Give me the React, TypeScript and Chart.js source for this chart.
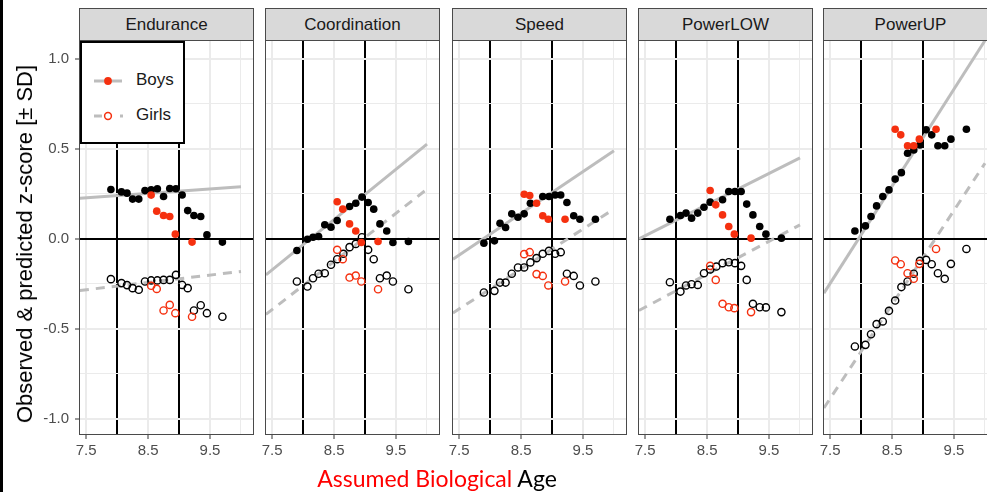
import React, { useEffect, useRef } from 'react';
import { Chart, registerables } from 'chart.js';

Chart.register(...registerables);

// ---------------- data ----------------
const FACETS = ['Endurance', 'Coordination', 'Speed', 'PowerLOW', 'PowerUP'];
const AGES = [7.9, 8.07, 8.16, 8.25, 8.35, 8.45, 8.55, 8.65, 8.75, 8.85, 8.95, 9.05, 9.14, 9.24, 9.35, 9.45, 9.7];
const AGES_RED = [8.55, 8.64, 8.75, 8.85, 8.94, 9.21];
const FIT_AGES = [7.4, 10.0];
const X_TICKS = [7.5, 8, 8.5, 9, 9.5, 10];
const X_LABELS = [7.5, 8.5, 9.5];
const Y_TICKS = [-1, -0.75, -0.5, -0.25, 0, 0.25, 0.5, 0.75, 1];
const Y_LABELS = [-1, -0.5, 0, 0.5, 1];
const REF_AGES = [8, 9];
const REF_Z = [0];

const enduranceBoys = [0.274, 0.261, 0.254, 0.221, 0.221, 0.268, 0.272, 0.278, 0.235, 0.28, 0.278, 0.244, 0.157, 0.13, 0.124, 0.022, -0.018];
const enduranceBoysRed = [0.243, 0.154, 0.13, 0.124, 0.026, -0.018];
const enduranceGirls = [-0.224, -0.246, -0.257, -0.274, -0.283, -0.237, -0.231, -0.231, -0.228, -0.228, -0.2, -0.256, -0.274, -0.398, -0.369, -0.413, -0.433];
const enduranceGirlsRed = [-0.261, -0.278, -0.398, -0.367, -0.413, -0.433];
const enduranceFitBoys = [0.226, 0.29];
const enduranceFitGirls = [-0.287, -0.181];

const coordinationBoys = [-0.065, -0.002, 0.009, 0.013, 0.078, 0.065, 0.102, null, 0.18, 0.198, 0.232, 0.202, 0.165, 0.083, 0.044, -0.02, -0.015];
const coordinationBoysRed = [0.206, 0.165, 0.083, 0.044, -0.02, -0.015];
const coordinationGirls = [-0.237, -0.265, -0.219, -0.194, -0.191, -0.144, -0.113, -0.083, -0.046, -0.028, 0.009, -0.061, -0.113, -0.219, -0.204, -0.237, -0.28];
const coordinationGirlsRed = [-0.061, -0.113, -0.215, -0.204, -0.237, -0.28];
const coordinationFitBoys = [-0.2, 0.526];
const coordinationFitGirls = [-0.42, 0.276];

const speedBoys = [-0.024, -0.011, 0.087, 0.063, 0.139, 0.12, 0.139, 0.198, null, 0.235, 0.235, 0.244, 0.244, 0.202, 0.128, 0.109, 0.109];
const speedBoysRed = [0.248, 0.241, 0.198, 0.128, 0.109, 0.109];
const speedGirls = [-0.298, -0.289, -0.243, -0.243, -0.194, -0.159, -0.159, -0.131, -0.107, -0.083, -0.067, -0.083, -0.074, -0.194, -0.206, -0.259, -0.237];
const speedGirlsRed = [-0.085, -0.074, -0.196, -0.206, -0.259, -0.237];
const speedFitBoys = [-0.113, 0.49];
const speedFitGirls = [-0.412, 0.166];

const powerLowBoys = [0.109, 0.13, 0.143, 0.115, 0.143, 0.176, 0.204, null, 0.217, 0.263, 0.263, 0.263, 0.193, 0.133, 0.069, 0.026, 0.004];
const powerLowBoysRed = [0.269, 0.189, 0.133, 0.069, 0.026, 0.004];
const powerLowGirls = [-0.241, -0.293, -0.259, -0.252, -0.256, -0.191, -0.17, -0.154, -0.135, -0.13, -0.135, -0.15, -0.228, -0.361, -0.38, -0.381, -0.407];
const powerLowGirlsRed = [-0.15, -0.228, -0.361, -0.38, -0.385, -0.407];
const powerLowFitBoys = [0.0, 0.45];
const powerLowFitGirls = [-0.398, 0.078];

const powerUpBoys = [0.044, 0.072, 0.124, 0.183, 0.235, 0.272, 0.332, 0.368, 0.476, 0.494, 0.522, 0.606, 0.578, 0.517, 0.517, 0.554, 0.609];
const powerUpBoysRed = [0.609, 0.578, 0.517, 0.517, 0.554, 0.609];
const powerUpGirls = [-0.598, -0.589, -0.53, -0.474, -0.459, -0.4, -0.343, -0.268, -0.237, -0.194, -0.122, -0.117, -0.141, -0.191, -0.222, -0.139, -0.056];
const powerUpGirlsRed = [-0.12, -0.141, -0.191, -0.222, -0.139, -0.056];
const powerUpFitBoys = [-0.302, 1.102];
const powerUpFitGirls = [-0.94, 0.42];

const PANEL_DATA = [
  { boys: enduranceBoys, boysRed: enduranceBoysRed, girls: enduranceGirls, girlsRed: enduranceGirlsRed, fitBoys: enduranceFitBoys, fitGirls: enduranceFitGirls },
  { boys: coordinationBoys, boysRed: coordinationBoysRed, girls: coordinationGirls, girlsRed: coordinationGirlsRed, fitBoys: coordinationFitBoys, fitGirls: coordinationFitGirls },
  { boys: speedBoys, boysRed: speedBoysRed, girls: speedGirls, girlsRed: speedGirlsRed, fitBoys: speedFitBoys, fitGirls: speedFitGirls },
  { boys: powerLowBoys, boysRed: powerLowBoysRed, girls: powerLowGirls, girlsRed: powerLowGirlsRed, fitBoys: powerLowFitBoys, fitGirls: powerLowFitGirls },
  { boys: powerUpBoys, boysRed: powerUpBoysRed, girls: powerUpGirls, girlsRed: powerUpGirlsRed, fitBoys: powerUpFitBoys, fitGirls: powerUpFitGirls },
];

// ---------------- style / layout ----------------
const RED = '#f5300f';
const FIT_GRAY = '#bdbdbd';
const GRID = '#ebebeb';
const FONT = '"Liberation Sans", Arial, sans-serif';
const PANEL_LEFT = [79, 265, 452, 638, 823];
const PANEL_W = 175;
const PLOT_TOP = 40;
const PLOT_H = 395;
const AXIS_W = 50;
const AXIS_H = 32;
const X_MIN = 7.385;
const X_MAX = 10.21;
const Y_MIN = -1.09;
const Y_MAX = 1.105;

const has = (list: number[], v: number) => list.some((m) => Math.abs(m - v) < 1e-6);

const zeroPadding = (s: any) => {
  s.paddingTop = 0;
  s.paddingBottom = 0;
  s.paddingLeft = 0;
  s.paddingRight = 0;
};

function FacetChart({ index }: { index: number }) {
  const ref = useRef<HTMLCanvasElement | null>(null);

  useEffect(() => {
    const d = PANEL_DATA[index];
    const pts = (xs: number[], ys: (number | null)[]) =>
      xs.map((x, i) => ({ x, y: ys[i] })).filter((p) => p.y !== null && p.y !== undefined);
    const showY = index === 0;

    const borderPlugin = {
      id: 'panelBorder',
      afterDraw(chart: any) {
        const { ctx, chartArea: a } = chart;
        ctx.save();
        ctx.strokeStyle = '#4a4a4a';
        ctx.lineWidth = 1;
        ctx.strokeRect(Math.round(a.left) + 0.5, Math.round(a.top) + 0.5, Math.round(a.right - a.left) - 1, Math.round(a.bottom - a.top) - 1);
        ctx.restore();
      },
    };

    const chart = new Chart(ref.current as HTMLCanvasElement, {
      type: 'scatter',
      data: {
        datasets: [
          { label: 'Boys (red)', data: pts(AGES_RED, d.boysRed), pointRadius: 3.8, pointBackgroundColor: RED, pointBorderColor: RED, pointBorderWidth: 0, order: 0 },
          { label: 'Girls (red)', data: pts(AGES_RED, d.girlsRed), pointRadius: 3.6, pointBackgroundColor: 'rgba(0,0,0,0)', pointBorderColor: RED, pointBorderWidth: 1.4, order: 0 },
          { label: 'Boys', data: pts(AGES, d.boys), pointRadius: 3.8, pointBackgroundColor: '#000', pointBorderColor: '#000', pointBorderWidth: 0, order: 1 },
          { label: 'Girls', data: pts(AGES, d.girls), pointRadius: 3.6, pointBackgroundColor: 'rgba(0,0,0,0)', pointBorderColor: '#000', pointBorderWidth: 1.4, order: 1 },
          { label: 'Boys fit', data: pts(FIT_AGES, d.fitBoys), showLine: true, borderColor: FIT_GRAY, borderWidth: 3, pointRadius: 0, order: 2 },
          { label: 'Girls fit', data: pts(FIT_AGES, d.fitGirls), showLine: true, borderColor: FIT_GRAY, borderWidth: 3, borderDash: [9, 7], pointRadius: 0, order: 2 },
        ],
      },
      options: {
        animation: false,
        responsive: false,
        maintainAspectRatio: false,
        devicePixelRatio: 1,
        layout: { padding: 0, autoPadding: false },
        plugins: { legend: { display: false }, tooltip: { enabled: false }, title: { display: false } },
        scales: {
          x: {
            type: 'linear',
            min: X_MIN,
            max: X_MAX,
            afterBuildTicks: (s: any) => {
              s.ticks = X_TICKS.map((v) => ({ value: v }));
            },
            afterFit: (s: any) => {
              s.height = AXIS_H;
              zeroPadding(s);
            },
            border: { display: false },
            grid: {
              color: (c: any) => (has(REF_AGES, c.tick?.value) ? '#000' : GRID),
              lineWidth: (c: any) => (has(REF_AGES, c.tick?.value) ? 2 : has(X_LABELS, c.tick?.value) ? 2 : 1),
              tickColor: (c: any) => (has(X_LABELS, c.tick?.value) ? '#333' : 'rgba(0,0,0,0)'),
              tickWidth: 1,
              tickLength: 4,
              drawTicks: true,
            },
            ticks: {
              autoSkip: false,
              maxRotation: 0,
              minRotation: 0,
              padding: 3,
              color: '#4d4d4d',
              font: { family: FONT, size: 15 },
              callback: (v: any) => (has(X_LABELS, Number(v)) ? Number(v).toFixed(1) : ''),
            },
          },
          y: {
            type: 'linear',
            min: Y_MIN,
            max: Y_MAX,
            afterBuildTicks: (s: any) => {
              s.ticks = Y_TICKS.map((v) => ({ value: v }));
            },
            afterFit: (s: any) => {
              s.width = AXIS_W;
              zeroPadding(s);
            },
            border: { display: false },
            grid: {
              color: (c: any) => (has(REF_Z, c.tick?.value) ? '#000' : GRID),
              lineWidth: (c: any) => (has(REF_Z, c.tick?.value) ? 2 : has(Y_LABELS, c.tick?.value) ? 2 : 1),
              tickColor: (c: any) => (showY && has(Y_LABELS, c.tick?.value) ? '#333' : 'rgba(0,0,0,0)'),
              tickWidth: 1,
              tickLength: 4,
              drawTicks: true,
            },
            ticks: {
              display: showY,
              autoSkip: false,
              padding: 6,
              color: '#4d4d4d',
              font: { family: FONT, size: 15 },
              callback: (v: any) => (has(Y_LABELS, Number(v)) ? Number(v).toFixed(1) : ''),
            },
          },
        },
      } as any,
      plugins: [borderPlugin],
    });
    return () => chart.destroy();
  }, [index]);

  return (
    <canvas
      ref={ref}
      width={AXIS_W + PANEL_W}
      height={PLOT_H + AXIS_H}
      style={{ position: 'absolute', left: PANEL_LEFT[index] - AXIS_W, top: PLOT_TOP, width: AXIS_W + PANEL_W, height: PLOT_H + AXIS_H }}
    />
  );
}

function LegendKey({ dashed }: { dashed: boolean }) {
  return (
    <svg width={32} height={12} style={{ position: 'absolute', left: 12, top: -6 }}>
      {dashed ? (
        <line x1={0} y1={6} x2={29} y2={6} stroke={FIT_GRAY} strokeWidth={3} strokeDasharray="8 18 3" />
      ) : (
        <line x1={0} y1={6} x2={28} y2={6} stroke={FIT_GRAY} strokeWidth={3} />
      )}
      {dashed ? (
        <circle cx={14} cy={6} r={3.4} fill="none" stroke={RED} strokeWidth={1.5} />
      ) : (
        <circle cx={14} cy={6} r={3.9} fill={RED} />
      )}
    </svg>
  );
}

export default function App() {
  return (
    <div style={{ position: 'fixed', left: 0, top: 0, width: 987, height: 492, overflow: 'hidden', background: '#fff', fontFamily: FONT }}>
      <div style={{ position: 'absolute', left: 0, top: 0, width: 3, height: 492, background: '#000' }} />
      {FACETS.map((name, i) => (
        <div
          key={name}
          style={{
            position: 'absolute',
            left: PANEL_LEFT[i],
            top: 8,
            width: PANEL_W,
            height: 33,
            boxSizing: 'border-box',
            background: '#d9d9d9',
            border: '1px solid #4a4a4a',
            color: '#1a1a1a',
            fontSize: 17,
            lineHeight: '31px',
            textAlign: 'center',
            whiteSpace: 'nowrap',
          }}
        >
          {name}
        </div>
      ))}
      {FACETS.map((name, i) => (
        <FacetChart key={name} index={i} />
      ))}
      <div
        style={{
          position: 'absolute',
          left: 80,
          top: 41,
          width: 105,
          height: 103,
          boxSizing: 'border-box',
          border: '2px solid #000',
          background: '#fff',
        }}
      >
        <div style={{ position: 'absolute', left: 0, top: 38, width: 100 }}>
          <LegendKey dashed={false} />
          <span style={{ position: 'absolute', left: 54, top: -11, fontSize: 17, color: '#1a1a1a', whiteSpace: 'nowrap' }}>Boys</span>
        </div>
        <div style={{ position: 'absolute', left: 0, top: 73, width: 100 }}>
          <LegendKey dashed={true} />
          <span style={{ position: 'absolute', left: 54, top: -11, fontSize: 17, color: '#1a1a1a', whiteSpace: 'nowrap' }}>Girls</span>
        </div>
      </div>
      <div
        style={{
          position: 'absolute',
          left: 25,
          top: 244,
          transform: 'translate(-50%, -50%) rotate(-90deg)',
          fontSize: 22,
          color: '#000',
          whiteSpace: 'nowrap',
        }}
      >
        Observed &amp; predicted z-score [± SD]
      </div>
      <div
        style={{
          position: 'absolute',
          left: 437,
          top: 478,
          transform: 'translate(-50%, -50%)',
          fontFamily: 'Lato, "Open Sans", sans-serif',
          fontSize: 23,
          whiteSpace: 'nowrap',
        }}
      >
        <span style={{ color: '#ff0000' }}>Assumed Biological</span> <span style={{ color: '#000' }}>Age</span>
      </div>
    </div>
  );
}
